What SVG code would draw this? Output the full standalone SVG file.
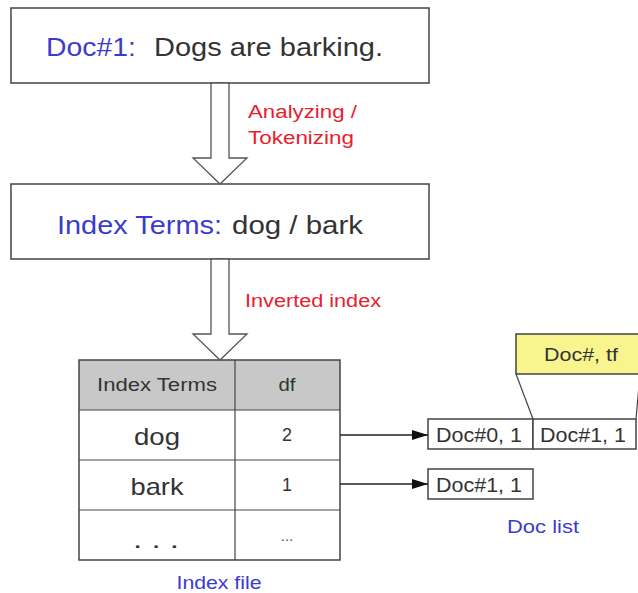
<svg xmlns="http://www.w3.org/2000/svg" width="638" height="593" viewBox="0 0 638 593">
  <defs>
    <style>
      .box { fill: #ffffff; stroke: #444444; stroke-width: 1.5; }
      .bigarrow { fill: #ffffff; stroke: #555555; stroke-width: 1.3; stroke-linejoin: miter; }
      .t { font-family: "Liberation Sans", Arial, sans-serif; }
      .blue { fill: #3b3bd0; }
      .dark { fill: #333333; }
      .red { fill: #e8202e; }
      .conn { stroke: #222222; stroke-width: 1.3; fill: none; }
      .thin { stroke: #444444; stroke-width: 1.2; fill: none; }
    </style>
    <marker id="head" markerWidth="16" markerHeight="10" refX="16" refY="5" orient="auto" markerUnits="userSpaceOnUse">
      <path d="M0,0 L16,5 L0,10 Z" fill="#111111"/>
    </marker>
  </defs>

  <rect width="638" height="593" fill="#ffffff"/>

  <!-- document node -->
  <g id="doc">
    <rect class="box" x="11" y="8" width="418" height="75"/>
    <text class="t blue" x="46" y="56" font-size="25" textLength="90" lengthAdjust="spacingAndGlyphs">Doc#1:</text>
    <text class="t dark" x="154" y="56" font-size="25" textLength="229" lengthAdjust="spacingAndGlyphs">Dogs are barking.</text>
  </g>

  <!-- index terms node -->
  <g id="terms">
    <rect class="box" x="11" y="184" width="418" height="75"/>
    <text class="t blue" x="57" y="234" font-size="25" textLength="165" lengthAdjust="spacingAndGlyphs">Index Terms:</text>
    <text class="t dark" x="232" y="234" font-size="25" textLength="131" lengthAdjust="spacingAndGlyphs">dog / bark</text>
  </g>

  <!-- index file table -->
  <g id="index-file">
    <rect x="79" y="360" width="261" height="50" fill="#c8c8c8"/>
    <rect x="79" y="360" width="261" height="200" fill="none" stroke="#444444" stroke-width="1.5"/>
    <line class="thin" x1="235" y1="360" x2="235" y2="560"/>
    <line class="thin" x1="79" y1="410" x2="340" y2="410"/>
    <line class="thin" x1="79" y1="460" x2="340" y2="460"/>
    <line class="thin" x1="79" y1="510" x2="340" y2="510"/>
    <g class="t dark" text-anchor="middle">
      <text x="157" y="391" font-size="18" textLength="120" lengthAdjust="spacingAndGlyphs">Index Terms</text>
      <text x="287" y="391" font-size="18" textLength="17" lengthAdjust="spacingAndGlyphs">df</text>
      <text x="157" y="445" font-size="24" textLength="46" lengthAdjust="spacingAndGlyphs">dog</text>
      <text x="287" y="441" font-size="18">2</text>
      <text x="157" y="495" font-size="24" textLength="53" lengthAdjust="spacingAndGlyphs">bark</text>
      <text x="287" y="491" font-size="18">1</text>
      <text x="156" y="548" font-size="24" textLength="46" lengthAdjust="spacingAndGlyphs">. . .</text>
      <text x="287" y="541" font-size="15" fill="#555555">...</text>
    </g>
    <text class="t blue" x="219" y="589" font-size="19" text-anchor="middle" textLength="85" lengthAdjust="spacingAndGlyphs">Index file</text>
  </g>

  <!-- posting lists -->
  <g id="doc-list">
    <rect class="box" x="428" y="419" width="105" height="30"/>
    <rect class="box" x="533" y="419" width="103" height="30"/>
    <rect class="box" x="428" y="469" width="105" height="30"/>
    <g class="t dark" font-size="20">
      <text x="436" y="442" textLength="86" lengthAdjust="spacingAndGlyphs">Doc#0, 1</text>
      <text x="540" y="442" textLength="86" lengthAdjust="spacingAndGlyphs">Doc#1, 1</text>
      <text x="436" y="492" textLength="86" lengthAdjust="spacingAndGlyphs">Doc#1, 1</text>
    </g>
    <text class="t blue" x="543" y="533" font-size="19" text-anchor="middle" textLength="72" lengthAdjust="spacingAndGlyphs">Doc list</text>
  </g>

  <!-- posting entry legend -->
  <g id="legend">
    <rect x="516" y="334" width="130" height="40" fill="#f8f48e" stroke="#444444" stroke-width="1.5"/>
    <text class="t dark" x="581" y="361" font-size="19" text-anchor="middle" textLength="74" lengthAdjust="spacingAndGlyphs">Doc#, tf</text>
    <line class="thin" x1="516" y1="374" x2="533" y2="419"/>
    <line class="thin" x1="640" y1="374" x2="636" y2="419"/>
  </g>

  <!-- connectors -->
  <g id="connectors">
    <path class="bigarrow" d="M211,83 L229,83 L229,158 L247,158 L220,184 L193,158 L211,158 Z"/>
    <path class="bigarrow" d="M211,259 L229,259 L229,334 L247,334 L220,360 L193,334 L211,334 Z"/>
    <g class="t red" font-size="18">
      <text x="248" y="118" textLength="109" lengthAdjust="spacingAndGlyphs">Analyzing /</text>
      <text x="248" y="144" textLength="106" lengthAdjust="spacingAndGlyphs">Tokenizing</text>
      <text x="245" y="307" textLength="136" lengthAdjust="spacingAndGlyphs">Inverted index</text>
    </g>
    <line class="conn" x1="340" y1="435" x2="428" y2="435" marker-end="url(#head)"/>
    <line class="conn" x1="340" y1="484" x2="428" y2="484" marker-end="url(#head)"/>
  </g>
</svg>
